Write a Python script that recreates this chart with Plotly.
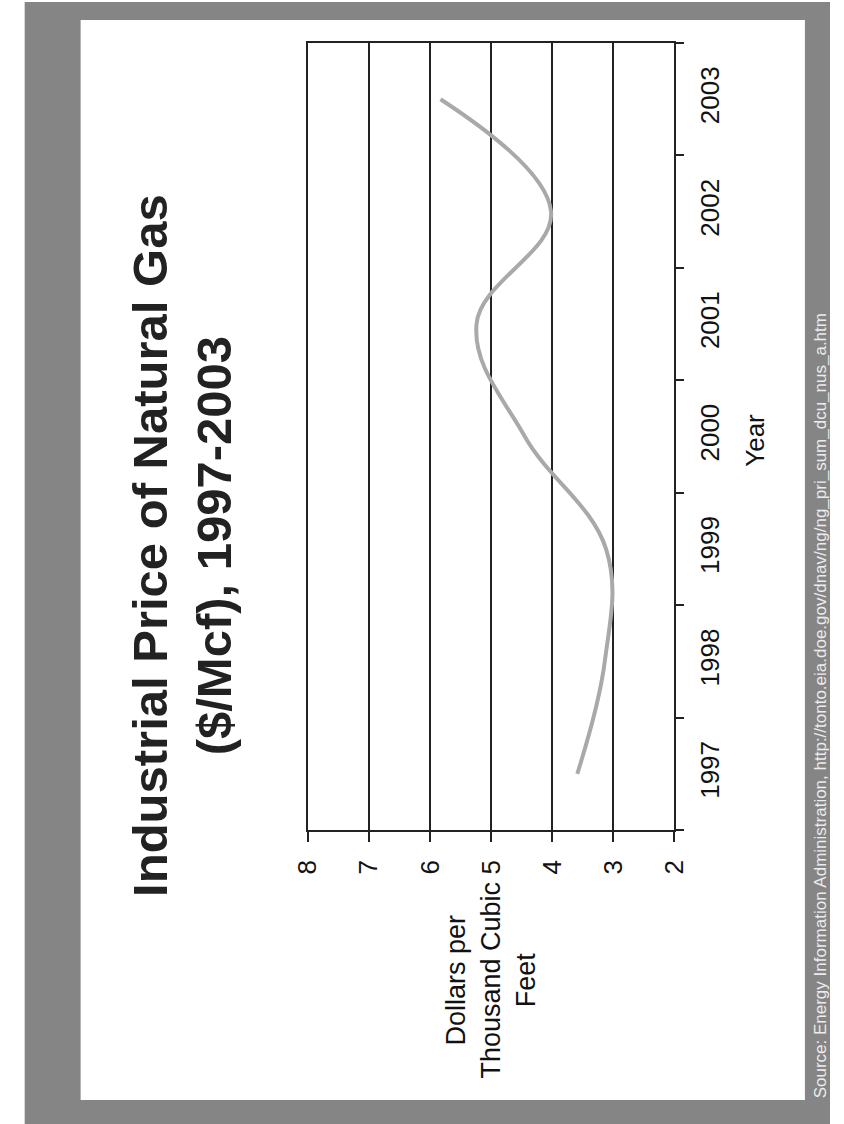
import plotly.graph_objects as go

# Industrial natural gas price, dollars per thousand cubic feet
years = ["1997", "1998", "1999", "2000", "2001", "2002", "2003"]
price = [3.59, 3.14, 3.12, 4.45, 5.24, 4.02, 5.83]
value_ticks = [2, 3, 4, 5, 6, 7, 8]

W, H = 844, 1124
FONT = "Liberation Sans, Arial, sans-serif"


def px(x):
    return x / W


def py(y):
    return 1 - y / H


fig = go.Figure()
fig.add_trace(go.Scatter(
    x=price, y=years, mode="lines",
    line=dict(color="#a9a9a9", width=4, shape="spline", smoothing=1.1),
    hoverinfo="x+y", showlegend=False,
))

fig.update_layout(
    width=W, height=H,
    margin=dict(l=0, r=0, t=0, b=0),
    paper_bgcolor="white",
    plot_bgcolor="rgba(0,0,0,0)",
    font=dict(family=FONT, color="#111111"),
    xaxis=dict(
        domain=[px(302.7), px(682.7)],
        range=[8, 2], tickvals=value_ticks,
        ticks="outside", ticklen=10, tickcolor="#222", tickwidth=1.5,
        tickangle=-90, tickfont=dict(size=26, color="#111"),
        ticklabelstandoff=8,
        showgrid=True, gridcolor="#222", gridwidth=1.5,
        showline=True, linecolor="#222", linewidth=1.5, mirror=True,
        zeroline=False, fixedrange=True,
    ),
    yaxis=dict(
        domain=[py(830), py(43)],
        type="category", categoryorder="array", categoryarray=years,
        range=[-0.5, 6.5], side="right",
        tickson="boundaries", ticks="outside", ticklen=8,
        tickcolor="#222", tickwidth=1.5,
        tickangle=-90, tickfont=dict(size=26, color="#111"),
        ticklabelstandoff=12,
        showgrid=False,
        showline=True, linecolor="#222", linewidth=1.5, mirror=True,
        zeroline=False, fixedrange=True,
    ),
    shapes=[
        # grey slide frame and white slide body
        dict(type="rect", xref="paper", yref="paper", layer="below",
             x0=px(9), x1=1, y0=0, y1=py(2),
             fillcolor="#858585", line=dict(width=0)),
        dict(type="rect", xref="paper", yref="paper", layer="below",
             x0=px(67), x1=px(818), y0=py(1100), y1=py(20),
             fillcolor="white", line=dict(width=0)),
    ],
    annotations=[
        dict(text="<b>Industrial Price of Natural Gas<br>($/Mcf), 1997-2003</b>",
             xref="paper", yref="paper", x=px(172), y=py(545),
             xanchor="center", yanchor="middle", textangle=-90,
             showarrow=False, font=dict(size=49, color="#222", family=FONT)),
        dict(text="Dollars per<br>Thousand Cubic<br>Feet",
             xref="paper", yref="paper", x=px(492), y=py(980),
             xanchor="center", yanchor="middle", textangle=-90,
             showarrow=False, font=dict(size=27, color="#111", family=FONT)),
        dict(text="Year",
             xref="paper", yref="paper", x=px(766), y=py(440),
             xanchor="center", yanchor="middle", textangle=-90,
             showarrow=False, font=dict(size=26, color="#111", family=FONT)),
        dict(text="Source: Energy Information Administration, "
                  "http://tonto.eia.doe.gov/dnav/ng/ng_pri_sum_dcu_nus_a.htm",
             xref="paper", yref="paper", x=px(834), y=py(706),
             xanchor="center", yanchor="middle", textangle=-90,
             showarrow=False, font=dict(size=17, color="#ececec", family=FONT)),
    ],
)

# keep the page itself flush with the figure
page_css = ("document.body.style.margin='0';"
            "document.body.style.padding='0';"
            "document.body.style.overflow='hidden';")
fig.write_html("out.html", post_script=page_css)
